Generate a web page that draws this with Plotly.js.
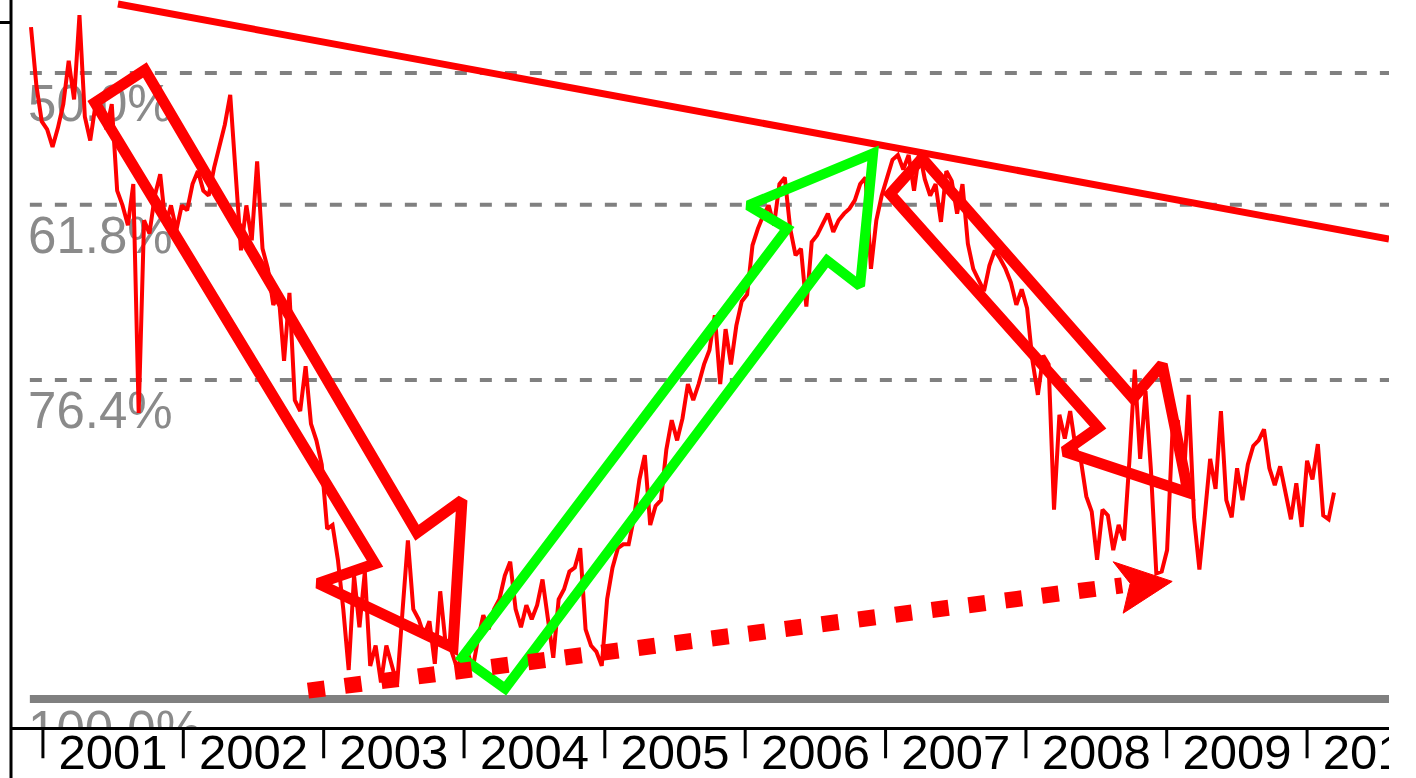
<!DOCTYPE html>
<html><head><meta charset="utf-8">
<script src="https://cdn.plot.ly/plotly-3.0.1.min.js"></script>
<style>html,body{margin:0;padding:0;background:#fff;} #chart{width:1416px;height:778px;}</style>
</head><body><div id="chart"></div>
<script>
// ---- price series (bi-weekly closes) ----
const startDate = '2000-12-01';
const stepDays = 14;
const prices = [
 13.80,13.42,13.19,13.14,13.03,13.15,13.30,13.58,13.33,13.88,
 13.22,13.07,13.30,13.28,13.14,13.30,12.76,12.67,12.55,12.80,
 11.47,12.58,12.50,12.73,12.86,12.55,12.67,12.52,12.67,12.64,
 12.80,12.88,12.76,12.73,12.90,13.04,13.17,13.36,12.89,12.40,
 12.67,12.46,12.94,12.41,12.29,12.08,12.14,11.76,12.15,11.54,
 11.48,11.73,11.41,11.32,11.19,10.85,10.87,10.69,10.44,10.14,
 10.61,10.35,10.63,10.16,10.26,10.08,10.26,10.17,10.07,10.43,
 10.79,10.44,10.39,10.31,10.38,10.17,10.53,10.27,10.24,10.16,
 10.19,10.24,10.14,10.29,10.41,10.34,10.44,10.49,10.61,10.68,
 10.44,10.35,10.46,10.39,10.46,10.59,10.39,10.20,10.49,10.54,
 10.63,10.65,10.75,10.34,10.26,10.23,10.16,10.49,10.65,10.75,
 10.77,10.77,10.91,11.11,11.24,10.87,10.97,11.00,11.27,11.43,
 11.32,11.44,11.63,11.54,11.63,11.74,11.82,12.02,11.63,11.94,
 11.74,11.96,12.10,12.14,12.43,12.53,12.61,12.67,12.55,12.80,
 12.84,12.53,12.37,12.41,12.07,12.45,12.49,12.55,12.62,12.51,
 12.58,12.62,12.65,12.70,12.80,12.84,12.29,12.58,12.73,12.84,
 12.95,12.98,12.89,12.98,12.76,13.00,12.83,12.73,12.80,12.57,
 12.88,12.82,12.62,12.80,12.44,12.29,12.22,12.16,12.31,12.40,
 12.35,12.29,12.21,12.08,12.17,12.06,11.76,11.57,11.79,11.74,
 10.95,11.46,11.33,11.48,11.28,11.21,11.02,10.94,10.69,10.95,
 10.92,10.74,10.87,10.79,11.21,11.71,11.22,11.59,11.16,10.62,
 10.63,10.74,11.37,11.43,11.06,11.57,10.91,10.64,10.92,11.22,
 11.06,11.48,11.00,10.91,11.17,11.00,11.19,11.29,11.32,11.38,
 11.17,11.08,11.18,11.03,10.90,11.09,10.86,11.21,11.11,11.30,
 10.92,10.90,11.04
];

// ---- year ticks ----
const years = [2001, 2002, 2003, 2004, 2005, 2006, 2007, 2008, 2009, 2010];

// ---- Fibonacci retracement ----
const fibHigh = 17, fibLow = 10;
const fibRatios = [0.5, 0.618, 0.764, 1.0];
const fibLabels = ['50.0%', '61.8%', '76.4%', '100.0%'];
const fibStart = '2000-11-28';
const fibLabelDate = '2000-10-29';

// ---- resistance trend line ----
const trendDates = ['2001-07-15', '2010-08-02'];
const trendPrices = [13.954, 12.467];

// ---- drawn arrows (decimal year, price) ----
const redArrow1Yr = [2001.370, 2003.364, 2002.958, 2003.919, 2003.983, 2003.663, 2001.726];
const redArrow1Px = [13.31, 10.67, 10.57, 10.25, 11.00, 10.83, 13.52];
const greenArrowYr = [2004.290, 2003.983, 2006.298, 2006.020, 2006.910, 2006.817, 2006.582];
const greenArrowPx = [10.05, 10.20, 12.53, 12.67, 12.99, 12.19, 12.34];
const redArrow2Yr = [2007.031, 2008.512, 2008.270, 2009.153, 2008.968, 2008.761, 2007.259];
const redArrow2Px = [12.74, 11.39, 11.26, 11.04, 11.74, 11.55, 12.96];
const dotLineYr = [2002.887, 2008.683];
const dotLinePx = [10.04, 10.56];
const dotHeadYr = [2008.619, 2009.039, 2008.690, 2008.740];
const dotHeadPx = [10.68, 10.58, 10.42, 10.57];

const xRange = ['2000-10-10', '2010-08-02'];

const DAY = 864e5;
const toMs = yr => Date.UTC(2001, 0, 1) + (yr - 2001) * 365.25 * DAY;
const dates = prices.map((_, i) => new Date(Date.parse(startDate) + i * stepDays * DAY).toISOString().slice(0, 10));
const FONT = 'Liberation Sans, Arial, sans-serif';

function closedPoly(yrs, pxs, color, width) {
  const xs = yrs.map(toMs).concat([toMs(yrs[0]), toMs(yrs[1])]);
  const ys = pxs.concat([pxs[0], pxs[1]]);
  return {x: xs, y: ys, mode: 'lines', line: {color: color, width: width}, hoverinfo: 'skip', showlegend: false};
}

const traces = [];
fibRatios.forEach((r, i) => {
  const lvl = fibHigh - r * (fibHigh - fibLow);
  const solid = r === 1.0;
  traces.push({x: [fibStart, xRange[1]], y: [lvl, lvl], mode: 'lines',
    line: {color: '#808080', width: solid ? 8 : 4, dash: solid ? 'solid' : '12px,13px'},
    hoverinfo: 'skip', showlegend: false});
});
traces.push({
  x: fibRatios.map(() => fibLabelDate),
  y: fibRatios.map(r => fibHigh - r * (fibHigh - fibLow)),
  text: fibLabels, mode: 'markers+text', textposition: 'bottom right',
  marker: {size: 14, color: 'rgba(0,0,0,0)'},
  textfont: {family: FONT, size: 51, color: '#8a8a8a'},
  cliponaxis: true, hoverinfo: 'skip', showlegend: false
});
traces.push({x: dates, y: prices, mode: 'lines', line: {color: '#ff0000', width: 4}, hoverinfo: 'skip', showlegend: false});
traces.push({x: trendDates, y: trendPrices, mode: 'lines', line: {color: '#ff0000', width: 7}, hoverinfo: 'skip', showlegend: false});
traces.push(closedPoly(redArrow1Yr, redArrow1Px, '#ff0000', 11));
traces.push(closedPoly(greenArrowYr, greenArrowPx, '#00ff00', 10));
traces.push(closedPoly(redArrow2Yr, redArrow2Px, '#ff0000', 11));
traces.push({x: dotLineYr.map(toMs), y: dotLinePx, mode: 'lines', line: {color: '#ff0000', width: 16, dash: '17px,20px'}, hoverinfo: 'skip', showlegend: false});
traces.push({x: dotHeadYr.map(toMs).concat([toMs(dotHeadYr[0])]), y: dotHeadPx.concat([dotHeadPx[0]]), mode: 'lines', fill: 'toself', fillcolor: '#ff0000', line: {color: '#ff0000', width: 1}, hoverinfo: 'skip', showlegend: false});

const tickShapes = years.map(y => ({type: 'line', xref: 'x', yref: 'paper', x0: y + '-01-01', x1: y + '-01-01',
  y0: -0.002, y1: -0.043, line: {color: '#000', width: 3}}));

const layout = {
  width: 1416, height: 778,
  margin: {l: 11, r: 27, t: 0, b: 51, pad: 0},
  paper_bgcolor: '#ffffff', plot_bgcolor: '#ffffff',
  showlegend: false,
  xaxis: {
    type: 'date', range: xRange, showgrid: false, zeroline: false,
    showline: true, linecolor: '#000', linewidth: 3,
    ticks: '', tick0: '2001-01-01', dtick: 'M12', tickformat: '%Y', ticklabelmode: 'period',
    ticklabeloverflow: 'allow', ticklabelstandoff: -20,
    tickfont: {family: FONT, size: 49, color: '#000'}
  },
  yaxis: {
    type: 'log', range: [Math.log10(9.8667), Math.log10(13.981)],
    showgrid: false, zeroline: false, showline: false,
    ticks: 'outside', tickmode: 'array', tickvals: [13.83], ticklen: 11, tickwidth: 3, tickcolor: '#000',
    showticklabels: false
  },
  shapes: tickShapes.concat([
    {type: 'line', xref: 'paper', yref: 'paper', x0: 0, x1: 0, y0: -0.12, y1: 1, line: {color: '#000', width: 3}},
    {type: 'rect', xref: 'paper', yref: 'paper', x0: 1.0, x1: 1.05, y0: -0.2, y1: 1.05, fillcolor: '#ffffff', line: {width: 0}, layer: 'above'}
  ])
};
Plotly.newPlot('chart', traces, layout, {displayModeBar: false, staticPlot: true});
</script></body></html>
